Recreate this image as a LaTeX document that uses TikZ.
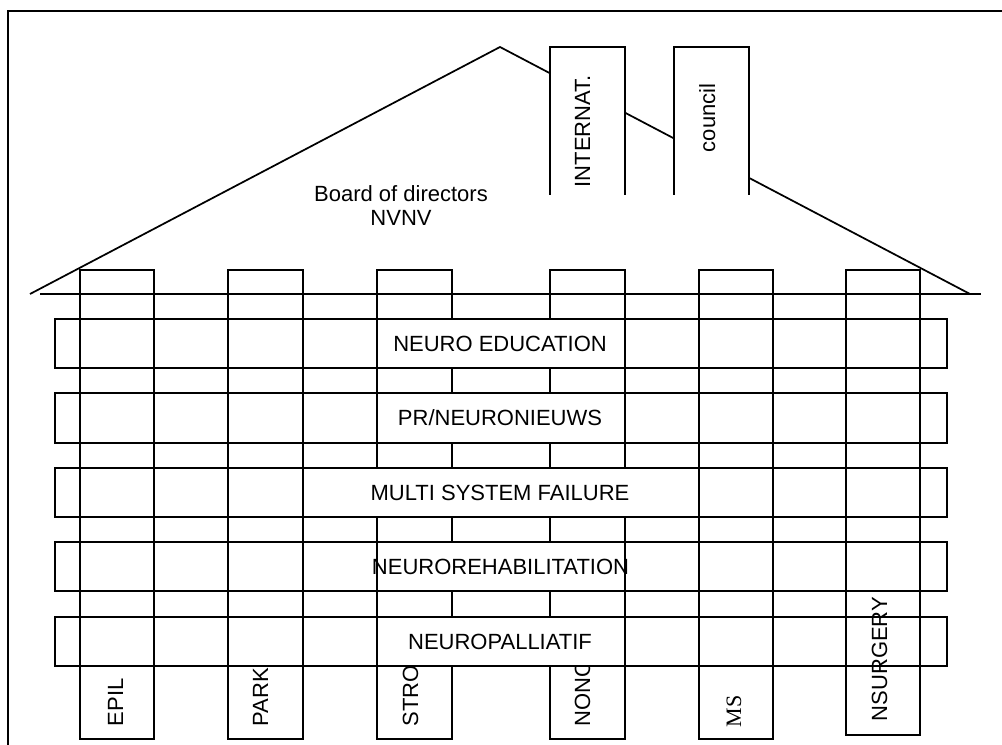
\documentclass[tikz,border=0pt]{standalone}
\usepackage{fontspec}
\setmainfont{Liberation Sans}
\newfontfamily\timesfont{Liberation Serif}
\begin{document}
\begin{tikzpicture}[x=0.75pt,y=-0.75pt, line width=1.3pt,
  lbl/.style={inner sep=0pt, font=\fontsize{16.5}{18}\selectfont},
  vlbl/.style={lbl, rotate=90, anchor=base west},
  colbox/.style={draw},
  rowbox/.style={draw},
  txtbox/.style={draw, fill=white}]
\useasboundingbox (0,0) rectangle (1002,745);
% frame
\draw (1002,11) -- (8,11) -- (8,745);
% roof and base line
\coordinate (roofL) at (30,294);
\coordinate (apex) at (500,47);
\coordinate (roofR) at (970,294);
\coordinate (baseL) at (40,294);
\coordinate (baseR) at (981,294);
\draw (roofL) -- (apex) -- (roofR);
\draw (baseL) -- (baseR);
% chimneys
\fill[white] (550,47) rectangle (625,195);
\draw (550,195) -- (550,47) -- (625,47) -- (625,195);
\fill[white] (674,47) rectangle (749,195);
\draw (674,195) -- (674,47) -- (749,47) -- (749,195);
\node[vlbl] (intern) at (590,188) {INTERNAT.};
\node[vlbl] (council) at (715,153) {council};
\node[lbl, align=center] (board) at (401,206) {Board of directors\\NVNV};
% columns
\draw[colbox] (80,270) rectangle (154,739);
\draw[colbox] (228,270) rectangle (303,739);
\draw[colbox] (377,270) rectangle (452,739);
\draw[colbox] (550,270) rectangle (625,739);
\draw[colbox] (699,270) rectangle (773,739);
\draw[colbox] (846,270) rectangle (920,735);
% column labels
\node[vlbl] (epil) at (123,727) {EPIL};
\node[vlbl] (park) at (268,727) {PARK};
\node[vlbl] (stro) at (418,727) {STRO};
\node[vlbl] (nono) at (590,727) {NONO};
\node[vlbl, font=\fontsize{16.5}{18}\timesfont] (ms) at (741,728) {MS};
% rows
\draw[rowbox] (55,319) rectangle (947,368);
\draw[rowbox] (55,393) rectangle (947,443);
\draw[rowbox] (55,468) rectangle (947,517);
\draw[rowbox] (55,542) rectangle (947,591);
\draw[rowbox] (55,617) rectangle (947,666);
% text boxes
\draw[txtbox] (377,319) rectangle (625,368);
\draw[txtbox] (377,393) rectangle (625,443);
\draw[txtbox] (303,468) rectangle (699,517);
\draw[txtbox] (377,542) rectangle (625,591);
\draw[txtbox] (377,617) rectangle (625,666);
\node[lbl] (edu) at (500,343.5) {NEURO EDUCATION};
\node[lbl] (pr) at (500,418) {PR/NEURONIEUWS};
\node[lbl] (msf) at (500,492.5) {MULTI SYSTEM FAILURE};
\node[lbl] (rehab) at (500.5,566.5) {NEUROREHABILITATION};
\node[lbl] (pall) at (500,641.5) {NEUROPALLIATIF};
\node[vlbl] (nsurg) at (887,722) {NSURGERY};
\end{tikzpicture}
\end{document}
